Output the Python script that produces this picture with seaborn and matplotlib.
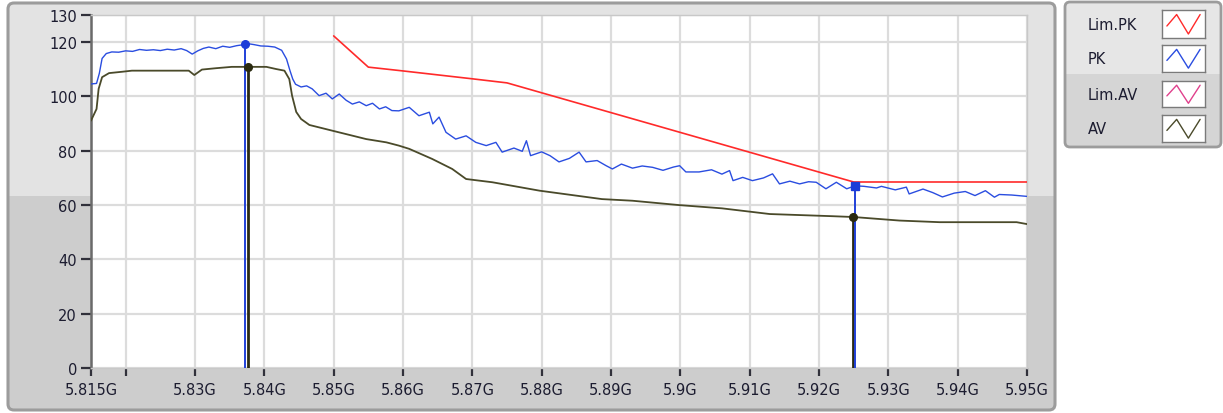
import matplotlib
matplotlib.use("Agg")
import numpy as np
import pandas as pd
import seaborn as sns
import matplotlib.pyplot as plt
from matplotlib.patches import FancyBboxPatch, Rectangle

# ---------------- data (frequency in GHz, level in dBuV) ----------------
pk_freq = [5.8150, 5.8158, 5.8162, 5.8166, 5.8172, 5.8180, 5.8190, 5.8200, 5.8210, 5.8220,
           5.8230, 5.8240, 5.8250, 5.8260, 5.8270, 5.8280, 5.8288, 5.8296, 5.8304, 5.8312,
           5.8320, 5.8330, 5.8340, 5.8350, 5.8360, 5.8368, 5.8375, 5.8385, 5.8395, 5.8405,
           5.8415, 5.8425, 5.8432, 5.8437, 5.8441, 5.8445, 5.8453, 5.8461, 5.8469, 5.8479,
           5.8489, 5.8498, 5.8508, 5.8518, 5.8527, 5.8537, 5.8547, 5.8556, 5.8566, 5.8575,
           5.8584, 5.8594, 5.8609, 5.8623, 5.8638, 5.8643, 5.8652, 5.8662, 5.8676, 5.8691,
           5.8705, 5.8720, 5.8734, 5.8743, 5.8760, 5.8772, 5.8778, 5.8784, 5.8800, 5.8812,
           5.8825, 5.8840, 5.8854, 5.8864, 5.8880, 5.8893, 5.8902, 5.8915, 5.8931, 5.8945,
           5.8960, 5.8975, 5.8990, 5.8999, 5.9008, 5.9027, 5.9045, 5.9060, 5.9071, 5.9076,
           5.9090, 5.9104, 5.9120, 5.9133, 5.9143, 5.9158, 5.9172, 5.9185, 5.9196, 5.9210,
           5.9225, 5.9240, 5.9252, 5.9265, 5.9283, 5.9290, 5.9310, 5.9326, 5.9330, 5.9350,
           5.9364, 5.9378, 5.9395, 5.9411, 5.9425, 5.9440, 5.9453, 5.9460, 5.9478, 5.9500]
pk_level = [104.6, 104.8, 108.5, 114.0, 115.8, 116.4, 116.3, 116.8, 116.6, 117.3,
            117.0, 117.2, 116.9, 117.4, 117.1, 117.6, 116.9, 115.6, 116.8, 117.7,
            118.2, 117.6, 118.5, 118.1, 118.7, 119.0, 119.5, 119.1, 118.6, 118.5,
            118.2, 117.0, 113.8, 109.5, 106.4, 104.5, 103.5, 103.9, 102.8, 100.3,
            101.2, 99.1, 100.9, 98.6, 97.2, 98.0, 96.6, 97.5, 95.4, 96.2,
            94.8, 94.7, 96.0, 92.9, 94.2, 89.9, 92.4, 86.8, 84.3, 85.5,
            83.1, 81.9, 83.1, 79.5, 81.0, 79.8, 83.7, 78.2, 79.6, 78.2,
            75.9, 77.2, 79.5, 75.9, 76.4, 74.5, 73.3, 75.1, 73.6, 74.4,
            73.9, 72.8, 74.0, 74.5, 72.2, 72.2, 73.0, 71.4, 72.7, 69.0,
            70.2, 69.0, 70.0, 71.5, 67.8, 68.8, 67.8, 68.6, 68.4, 66.0,
            68.4, 66.0, 67.1, 66.9, 66.3, 66.9, 65.6, 66.6, 64.1, 65.9,
            64.6, 63.0, 64.4, 65.0, 63.5, 65.3, 62.9, 63.9, 63.7, 63.2]

av_freq = [5.8150, 5.8158, 5.8161, 5.8166, 5.8176, 5.8195, 5.8209, 5.8250, 5.8291, 5.8299,
           5.8310, 5.8330, 5.8353, 5.8377, 5.8403, 5.8417, 5.8429, 5.8436, 5.8440, 5.8446,
           5.8453, 5.8465, 5.8498, 5.8547, 5.8576, 5.8594, 5.8609, 5.8642, 5.8671, 5.8691,
           5.8729, 5.8797, 5.8887, 5.8931, 5.8998, 5.9060, 5.9129, 5.9220, 5.9250, 5.9316,
           5.9374, 5.9485, 5.9500]
av_level = [91.1, 95.4, 102.8, 107.1, 108.6, 109.1, 109.5, 109.5, 109.5, 107.9,
            109.9, 110.4, 110.9, 110.9, 110.9, 110.1, 109.5, 106.4, 100.3, 94.3,
            91.7, 89.5, 87.4, 84.3, 83.1, 81.9, 80.7, 77.0, 73.3, 69.6,
            68.4, 65.3, 62.2, 61.6, 60.0, 58.8, 56.7, 55.9, 55.6, 54.3,
            53.7, 53.7, 53.0]

limpk_freq = [5.8500, 5.8550, 5.8600, 5.8700, 5.8750, 5.9250, 5.9500]
limpk_level = [122.3, 110.8, 109.4, 106.5, 105.0, 68.5, 68.5]

# cursors
cur_pk_freq = [5.8372, 5.9252]
cur_pk_level = [119.5, 67.1]
cur_av_freq = [5.8377, 5.9249]
cur_av_level = [110.9, 55.6]

x_ticks = [5.815, 5.82, 5.83, 5.84, 5.85, 5.86, 5.87, 5.88, 5.89, 5.90,
           5.91, 5.92, 5.93, 5.94, 5.95]
x_labels = ["5.815G", "", "5.83G", "5.84G", "5.85G", "5.86G", "5.87G", "5.88G",
            "5.89G", "5.9G", "5.91G", "5.92G", "5.93G", "5.94G", "5.95G"]
y_ticks = [0, 20, 40, 60, 80, 100, 120, 130]

legend_names = ["Lim.PK", "PK", "Lim.AV", "AV"]
legend_colors = ["#ff2a2a", "#2a4de0", "#e0408c", "#4a4a2a"]

# ---------------- style ----------------
sns.set_style("white")
plt.rcParams["font.family"] = ["DejaVu Sans"]
TXT = "#1c1c30"
C_LIMPK, C_PK, C_LIMAV, C_AV = legend_colors

W, H = 1223, 414
fig = plt.figure(figsize=(W / 100, H / 100), dpi=100)
fig.patch.set_facecolor("white")

def inch_box(x0, y0, x1, y1):
    # pixel box (top-left origin) -> inches (bottom-left origin)
    return x0 / 100, (H - y1) / 100, (x1 - x0) / 100, (y1 - y0) / 100

tr = fig.dpi_scale_trans

# graph panel
bx, by, bw, bh = inch_box(8, 4, 1055, 411)
panel = FancyBboxPatch((bx, by), bw, bh, boxstyle="round,pad=0,rounding_size=0.06",
                       transform=tr, facecolor="#cdcdcd", edgecolor="none", zorder=-3)
fig.patches.append(panel)
tx, ty, tw, th = inch_box(8, 4, 1055, 197)
top = Rectangle((tx, ty), tw, th, transform=tr, facecolor="#e3e3e3", edgecolor="none", zorder=-2)
top.set_clip_path(panel)
fig.patches.append(top)
border = FancyBboxPatch((bx, by), bw, bh, boxstyle="round,pad=0,rounding_size=0.06",
                        transform=tr, facecolor="none", edgecolor="#9c9c9c", linewidth=2.2, zorder=-1)
fig.patches.append(border)

# legend panel
lx, ly, lw_, lh = inch_box(1065, 3, 1221, 148)
lpanel = FancyBboxPatch((lx, ly), lw_, lh, boxstyle="round,pad=0,rounding_size=0.05",
                        transform=tr, facecolor="#d5d5d5", edgecolor="none", zorder=-3)
fig.patches.append(lpanel)
tx, ty, tw, th = inch_box(1065, 3, 1221, 75)
ltop = Rectangle((tx, ty), tw, th, transform=tr, facecolor="#e6e6e6", edgecolor="none", zorder=-2)
ltop.set_clip_path(lpanel)
fig.patches.append(ltop)
lborder = FancyBboxPatch((lx, ly), lw_, lh, boxstyle="round,pad=0,rounding_size=0.05",
                         transform=tr, facecolor="none", edgecolor="#9c9c9c", linewidth=2.0, zorder=-1)
fig.patches.append(lborder)

# ---------------- main axes ----------------
ax = fig.add_axes([91 / W, 45 / H, 936 / W, 353 / H])
ax.set_zorder(2)
ax.set_facecolor("white")

pk = pd.DataFrame({"f": pk_freq, "v": pk_level})
av = pd.DataFrame({"f": av_freq, "v": av_level})
lim = pd.DataFrame({"f": limpk_freq, "v": limpk_level})

sns.lineplot(data=av, x="f", y="v", ax=ax, color=C_AV, linewidth=1.3, zorder=3)
sns.lineplot(data=pk, x="f", y="v", ax=ax, color=C_PK, linewidth=1.0, zorder=4)
sns.lineplot(data=lim, x="f", y="v", ax=ax, color=C_LIMPK, linewidth=1.2, zorder=5)

# cursors
for f, v in zip(cur_av_freq, cur_av_level):
    ax.plot([f, f], [0, v], color="#2a2a14", linewidth=2.0, zorder=6)
    ax.plot([f], [v], marker="o", markersize=5.5, color="#2a2a10", zorder=8)
for i, (f, v) in enumerate(zip(cur_pk_freq, cur_pk_level)):
    ax.plot([f, f], [0, v], color="#2040d8", linewidth=1.4, zorder=7)
    ax.plot([f], [v], marker="o" if i == 0 else "s", markersize=5.5, color="#1c3cd8", zorder=8)

ax.set_xlim(5.815, 5.95)
ax.set_ylim(0, 130)
ax.set_xticks(x_ticks)
ax.set_xticklabels(x_labels)
ax.set_yticks(y_ticks)
ax.set_yticklabels([str(t) for t in y_ticks])
ax.set_xlabel("")
ax.set_ylabel("")
ax.grid(True, color="#dcdcdc", linewidth=1.6)
ax.set_axisbelow(True)
ax.tick_params(axis="y", which="major", left=True, direction="out", length=7, width=1.6,
               color="#30303a", pad=3, labelsize=10.5, labelcolor=TXT)
ax.tick_params(axis="x", which="major", bottom=True, direction="out", length=6, width=1.6,
               color="#30303a", pad=4, labelsize=10.5, labelcolor=TXT)
for s in ["top", "right", "bottom"]:
    ax.spines[s].set_color("#c8c8c8")
    ax.spines[s].set_linewidth(1.0)
ax.spines["left"].set_color("#6a6a6a")
ax.spines["left"].set_linewidth(1.8)

# ---------------- legend ----------------
zig_x = [0, 1, 2.2, 3.4]
zig_y = [0.45, 0.88, 0.15, 0.88]
rows = [(11, 39), (46, 73), (82, 108), (116, 143)]
for name, col, (y0, y1) in zip(legend_names, legend_colors, rows):
    fig.text(1088 / W, 1 - ((y0 + y1) / 2) / H, name, ha="left", va="center",
             fontsize=10.5, color=TXT)
    sax = fig.add_axes([1162 / W, 1 - y1 / H, 43 / W, (y1 - y0) / H])
    sax.set_zorder(2)
    sax.set_facecolor("white")
    sax.plot(zig_x, zig_y, color=col, linewidth=1.0)
    sax.set_xlim(-0.5, 3.9)
    sax.set_ylim(0, 1.05)
    sax.set_xticks([])
    sax.set_yticks([])
    for s in sax.spines.values():
        s.set_color("#7a7a7a")
        s.set_linewidth(1.0)

fig.savefig("out.png", dpi=100, facecolor="white")
